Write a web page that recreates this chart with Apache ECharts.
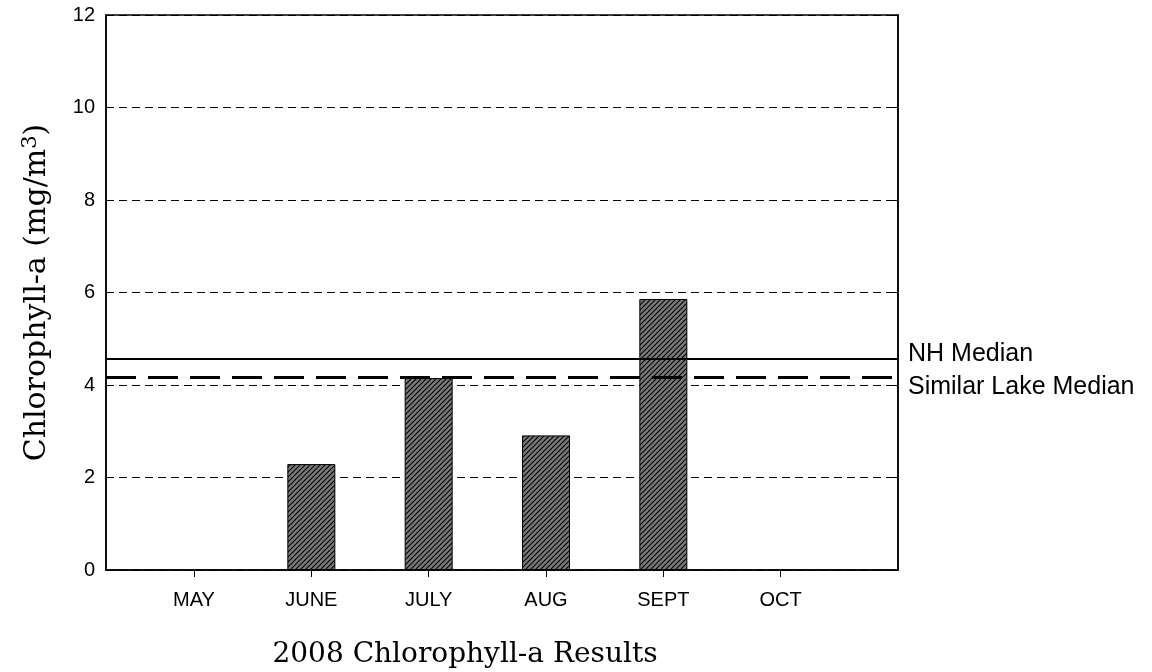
<!DOCTYPE html>
<html>
<head>
<meta charset="utf-8">
<script src="https://cdn.jsdelivr.net/npm/echarts@6/dist/echarts.min.js"></script>
<style>
html, body { margin: 0; padding: 0; background: #fff; }
#container { width: 1152px; height: 672px; }
</style>
</head>
<body>
<div id="container"></div>
<script>
// months as numbers on a value x axis (5 = MAY ... 10 = OCT)
var monthNums = [5, 6, 7, 8, 9, 10];
var monthLabels = ['MAY', 'JUNE', 'JULY', 'AUG', 'SEPT', 'OCT'];
var chlValues = [null, 2.29, 4.15, 2.91, 5.86, null];
var nhMedian = 4.56;
var similarMedian = 4.16;
var yTicks = [0, 2, 4, 6, 8, 10, 12];

// hatch pattern for the bars
var T = 5;
var hatch = document.createElement('canvas');
hatch.width = T;
hatch.height = T;
var hc = hatch.getContext('2d');
hc.fillStyle = '#7a7a7a';
hc.fillRect(0, 0, T, T);
hc.strokeStyle = '#000';
hc.lineWidth = 1.1;
hc.beginPath();
hc.moveTo(0, T); hc.lineTo(T, 0);
hc.moveTo(-1, 1); hc.lineTo(1, -1);
hc.moveTo(T - 1, T + 1); hc.lineTo(T + 1, T - 1);
hc.stroke();

var barData = [];
for (var i = 0; i < monthNums.length; i++) {
    if (chlValues[i] != null) barData.push([monthNums[i], chlValues[i]]);
}

var dom = document.getElementById('container');
var myChart = echarts.init(dom);
var option = {
    animation: false,
    title: {
        text: '2008 Chlorophyll-a Results',
        left: 460,
        top: 636,
        textAlign: 'center',
        textStyle: {
            fontFamily: 'DejaVu Serif',
            fontWeight: 'normal',
            fontSize: 28,
            color: '#000'
        }
    },
    grid: {
        left: 106,
        right: 254,
        top: 15,
        bottom: 102,
        show: true,
        borderColor: '#000',
        borderWidth: 1.5
    },
    xAxis: {
        type: 'value',
        min: 4.25,
        max: 11,
        interval: 1,
        axisLine: { show: true, lineStyle: { color: '#000', width: 1.5 } },
        axisTick: {
            show: true, length: 7, lineStyle: { color: '#000' },
            customValues: monthNums
        },
        axisLabel: {
            color: '#000',
            fontFamily: 'Liberation Sans',
            fontSize: 20,
            margin: 20,
            customValues: monthNums,
            formatter: function (v) {
                var k = monthNums.indexOf(Math.round(v));
                return k >= 0 ? monthLabels[k] : '';
            }
        },
        splitLine: { show: false }
    },
    yAxis: [
        {
            type: 'value',
            min: 0,
            max: 12,
            interval: 2,
            name: 'Chlorophyll-a (mg/m{sup|3})',
            nameLocation: 'middle',
            nameGap: 51,
            nameTextStyle: {
                fontFamily: 'DejaVu Serif',
                fontSize: 30,
                color: '#000',
                rich: {
                    sup: {
                        fontFamily: 'DejaVu Serif',
                        fontSize: 21,
                        color: '#000',
                        verticalAlign: 'top',
                        padding: [0, 0, 14, 0]
                    }
                }
            },
            axisLine: { show: true, lineStyle: { color: '#000', width: 1.5 } },
            axisTick: { show: true, inside: true, length: 5, lineStyle: { color: '#000' } },
            axisLabel: {
                color: '#000',
                fontFamily: 'Liberation Sans',
                fontSize: 20,
                margin: 11,
                formatter: function (v) { return yTicks.indexOf(v) >= 0 ? String(v) : ''; }
            },
            splitLine: { show: true, lineStyle: { color: '#000', width: 1, type: [8, 5] } }
        },
        {
            type: 'value',
            min: 0,
            max: 12,
            interval: 2,
            position: 'right',
            axisLine: { show: true, lineStyle: { color: '#000', width: 1.5 } },
            axisTick: { show: true, inside: true, length: 5, lineStyle: { color: '#000' } },
            axisLabel: { show: false },
            splitLine: { show: false }
        }
    ],
    series: [
        {
            type: 'bar',
            data: barData,
            barWidth: 48,
            itemStyle: {
                color: { image: hatch, repeat: 'repeat' },
                borderColor: '#000',
                borderWidth: 1
            },
            markLine: {
                symbol: ['none', 'none'],
                silent: true,
                animation: false,
                label: {
                    position: 'end',
                    distance: 10,
                    color: '#000',
                    fontFamily: 'Liberation Sans',
                    fontSize: 25
                },
                data: [
                    {
                        yAxis: nhMedian,
                        lineStyle: { color: '#000', width: 2, type: 'solid' },
                        label: { formatter: 'NH Median\n ', lineHeight: 10 }
                    },
                    {
                        yAxis: similarMedian,
                        lineStyle: { color: '#000', width: 3, type: [30, 12] },
                        label: { formatter: ' \nSimilar Lake Median', lineHeight: 20 }
                    }
                ]
            }
        }
    ]
};
myChart.setOption(option, true);
</script>
</body>
</html>
